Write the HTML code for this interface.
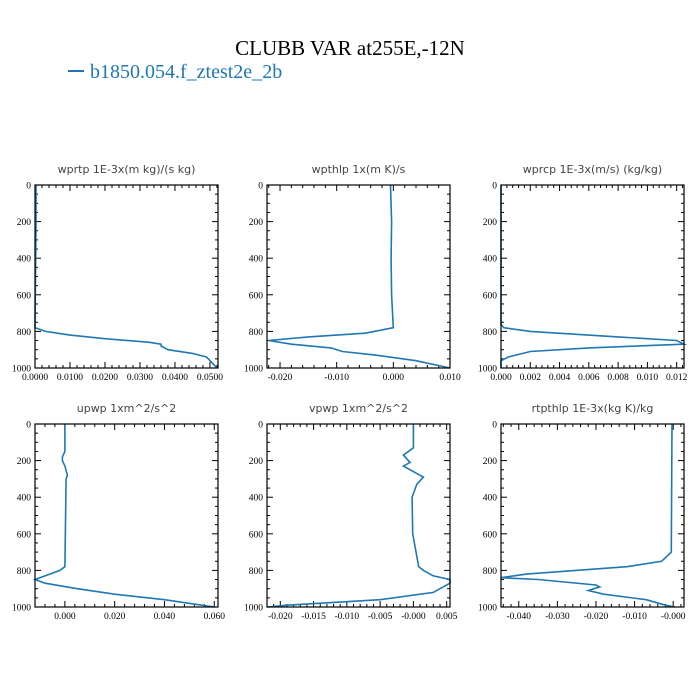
<!DOCTYPE html>
<html><head><meta charset="utf-8"><style>
body{margin:0;background:#fff}
svg{display:block}
.tk{font-family:"Liberation Serif",serif;font-size:9.5px;fill:#000}
.pt{font-family:"DejaVu Sans","Liberation Sans",sans-serif;font-size:11px;fill:#444}
</style></head><body>
<svg id="c" width="700" height="700">
<text x="350" y="55" text-anchor="middle" font-family="Liberation Serif" font-size="21">CLUBB VAR at255E,-12N</text>
<g><line x1="68" y1="71" x2="84" y2="71" stroke="#1f77b4" stroke-width="2"/><text x="90" y="78" font-family="Liberation Serif" font-size="20" fill="#1f77b4">b1850.054.f_ztest2e_2b</text></g>
</svg>
<script>
const titles=["wprtp  1E-3x(m kg)/(s kg)","wpthlp  1x(m K)/s","wprcp  1E-3x(m/s) (kg/kg)","upwp  1xm^2/s^2","vpwp  1xm^2/s^2","rtpthlp  1E-3x(kg K)/kg"];
const xDomains=[[0,0.0523],[-0.0223,0.0100],[0,0.0125],[-0.012,0.0615],[-0.022,0.0055],[-0.0446,0.0028]];
const xTicks=[[0,0.01,0.02,0.03,0.04,0.05],[-0.02,-0.01,0,0.01],[0,0.002,0.004,0.006,0.008,0.01,0.012],[0,0.02,0.04,0.06],[-0.02,-0.015,-0.01,-0.005,0,0.005],[-0.04,-0.03,-0.02,-0.01,0]];
const xLabels=[["0.0000","0.0100","0.0200","0.0300","0.0400","0.0500"],["-0.020","-0.010","0.000","0.010"],["0.000","0.002","0.004","0.006","0.008","0.010","0.012"],["0.000","0.020","0.040","0.060"],["-0.020","-0.015","-0.010","-0.005","-0.000","0.005"],["-0.040","-0.030","-0.020","-0.010","-0.000"]];
const yTicks=[0,200,400,600,800,1000];
const lev1=[0,200,400,600,780,800,820,840,860,870,880,900,920,940,960,980,1000];
const val1=[0.0003,0.0003,0.0002,0.0001,0,0.003,0.01,0.02,0.033,0.036,0.036,0.038,0.045,0.049,0.05,0.051,0.052];
const lev2=[0,200,400,600,780,810,830,850,870,890,910,930,960,1000];
const val2=[-0.0005,-0.0003,-0.0004,-0.0003,0,-0.005,-0.015,-0.022,-0.018,-0.011,-0.009,-0.003,0.004,0.01];
const lev3=[0,760,780,800,830,850,870,890,910,940,960,1000];
const val3=[0,0,0.0002,0.002,0.008,0.012,0.0125,0.006,0.002,0.0005,0,0];
const lev4=[0,150,180,200,230,280,300,780,800,830,850,870,900,930,960,990,1000];
const val4=[0,0,-0.001,-0.001,0,0.001,0.0005,0,-0.002,-0.008,-0.012,-0.008,0.005,0.02,0.04,0.055,0.06];
const lev5=[0,130,170,210,230,250,290,330,400,600,780,800,830,850,870,900,920,960,990,1000];
const val5=[0,0,-0.0015,-0.0005,-0.0015,-0.0005,0.0015,0.0005,-0.0002,-0.0001,0.0008,0.0015,0.003,0.0055,0.0055,0.004,0.003,-0.005,-0.019,-0.022];
const lev6=[0,700,750,780,820,840,850,880,890,910,930,960,990,1000];
const val6=[-0.0003,-0.0005,-0.003,-0.012,-0.038,-0.0446,-0.035,-0.02,-0.019,-0.022,-0.018,-0.007,-0.002,0.0005];
const levs=[lev1,lev2,lev3,lev4,lev5,lev6], vals=[val1,val2,val3,val4,val5,val6];
const NS="http://www.w3.org/2000/svg", svg=document.getElementById("c");
function mk(t,a,p){const e=document.createElementNS(NS,t);for(const k in a)e.setAttribute(k,a[k]);(p||svg).appendChild(e);return e;}
const lefts=[35,267,501], tops=[185,424], W=183, H=183;
for(let i=0;i<6;i++){
  const L=lefts[i%3], T=tops[Math.floor(i/3)], d=xDomains[i];
  const xs=v=>L+(v-d[0])/(d[1]-d[0])*W, ys=p=>T+p/1000*H;
  const g=mk("g",{});
  
  
  const tt=mk("text",{x:L+W/2,y:T-12,"text-anchor":"middle",class:"pt"},g);tt.textContent=titles[i];
  
  
  // y ticks
  for(let p=0;p<=1000;p+=50){const major=p%200==0,len=major?6:3;
    mk("line",{x1:L,x2:L+len,y1:ys(p),y2:ys(p),stroke:"#000","stroke-width":1},g);
    mk("line",{x1:L+W,x2:L+W-len,y1:ys(p),y2:ys(p),stroke:"#000","stroke-width":1},g);}
  yTicks.forEach(p=>{const t=mk("text",{x:L-4,y:ys(p)+3.5,"text-anchor":"end",class:"tk"},g);t.textContent=p;
    });
  // x ticks
  const xt=xTicks[i], step=xt[1]-xt[0], ms=step/5;
  for(let v=Math.ceil(d[0]/ms)*ms;v<=d[1]+1e-12;v+=ms){const isM=xt.some(q=>Math.abs(q-v)<ms*0.1),len=isM?6:3;
    mk("line",{x1:xs(v),x2:xs(v),y1:T+H,y2:T+H-len,stroke:"#000","stroke-width":1},g);
    mk("line",{x1:xs(v),x2:xs(v),y1:T,y2:T+len,stroke:"#000","stroke-width":1},g);}
  xt.forEach((v,j)=>{const t=mk("text",{x:xs(v),y:T+H+12,"text-anchor":"middle",class:"tk"},g);t.textContent=xLabels[i][j];
    });
  const pts=levs[i].map((p,j)=>xs(Math.max(d[0],Math.min(d[1],vals[i][j]))).toFixed(1)+","+ys(p).toFixed(1)).join(" ");
  const pl=mk("polyline",{points:pts,fill:"none",stroke:"#1f77b4","stroke-width":1.6},g);
  
  
  const fr=mk("rect",{x:L,y:T,width:W,height:H,fill:"none",stroke:"#000","stroke-width":1.2},g);
  
  
}
</script>
</body></html>
